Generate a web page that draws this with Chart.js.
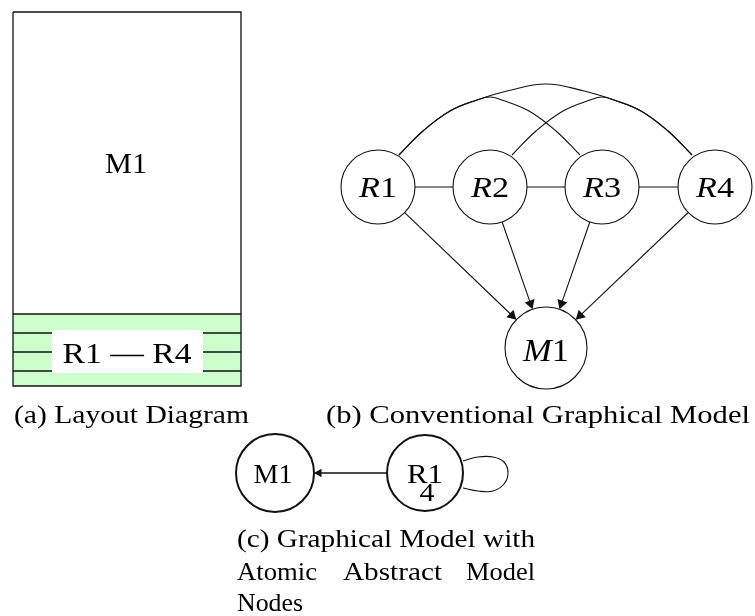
<!DOCTYPE html>
<html>
<head>
<meta charset="utf-8">
<script src="https://cdn.jsdelivr.net/npm/chart.js@4.4.1/dist/chart.umd.min.js"></script>
<style>
  html, body { margin: 0; padding: 0; background: #fff; }
  #wrap { width: 755px; height: 616px; }
</style>
</head>
<body>
<div id="wrap"><canvas id="diagram" width="755" height="616"></canvas></div>
<script>
// Diagram coordinates (y grows downward).

// (a) layout diagram
const layoutOuterX = [13, 241, 241, 13, 13];
const layoutOuterY = [12, 12, 386, 386, 12];
const stripeX = [13, 241];
const stripeTop = 314;
const stripeBottom = 386;
const stripeLinesY = [314, 333, 352, 371];
const labelBoxX = [52, 203];
const labelBoxTop = 330;
const labelBoxBottom = 373;

// (b) conventional graphical model
const nodeNamesB = ['R', 'R', 'R', 'R', 'M'];
const nodeIndexB = ['1', '2', '3', '4', '1'];
const nodeXB = [378, 490, 602, 715, 546];
const nodeYB = [187, 187, 187, 187, 348];
const nodeRadiusB = [37, 37, 37, 37, 41];
const chainEdgesB = [[0, 1], [1, 2], [2, 3]];
const arrowEdgesB = [[0, 4], [1, 4], [2, 4], [3, 4]];

// bent edges
const arcR1R4X = [399, 423, 450, 477, 507, 546, 584, 614, 641, 668, 692];
const arcR1R4Y = [155, 131, 111, 100, 91, 84, 91, 100, 111, 131, 155];
const arcR1R3X = [399, 423, 450, 477, 490, 502, 529, 556, 580];
const arcR1R3Y = [155, 131, 111, 100, 97, 100, 111, 131, 155];
const arcR2R4X = [512, 536, 563, 590, 602, 614, 641, 668, 692];
const arcR2R4Y = [155, 131, 111, 100, 97, 100, 111, 131, 155];

// (c) graphical model with atomic abstract model nodes
const nodeXC = [275, 425];
const nodeYC = [473, 473];
const nodeRadiusC = [39, 38];
const loopX = [463, 478, 493, 504, 508, 504, 493, 478, 463];
const loopY = [461, 457, 457, 462, 473, 484, 491, 491, 488];

// captions
const captionA = '(a) Layout Diagram';
const captionB = '(b) Conventional Graphical Model';
const captionC1 = '(c) Graphical Model with';
const captionC2 = ['Atomic', 'Abstract', 'Model'];
const captionC3 = 'Nodes';

const INK = '#111';
const HEAD_B = 6;
const HEAD_C = 5;

const pts = (xs, ys) => xs.map((x, i) => ({ x, y: ys[i] }));

function lineSet(data, extra) {
  return Object.assign({
    data,
    showLine: true,
    pointRadius: 0,
    borderColor: INK,
    borderWidth: 1.1,
    backgroundColor: 'rgba(0,0,0,0)',
    fill: false,
    tension: 0,
    clip: false,
    order: 7
  }, extra || {});
}

// edge between two circles, trimmed at their borders
function trimmed(xs, ys, rs, i, j) {
  const dx = xs[j] - xs[i], dy = ys[j] - ys[i];
  const len = Math.hypot(dx, dy);
  const ux = dx / len, uy = dy / len;
  return {
    x0: xs[i] + ux * rs[i], y0: ys[i] + uy * rs[i],
    x1: xs[j] - ux * rs[j], y1: ys[j] - uy * rs[j],
    ux, uy
  };
}

const datasets = [];

// ---- (a) ----
datasets.push(lineSet(pts(stripeX, [stripeTop, stripeTop]), {
  borderColor: 'rgba(0,0,0,0)', backgroundColor: '#ccffcc',
  fill: { value: stripeBottom }, order: 12
}));
stripeLinesY.forEach(y => datasets.push(lineSet(pts(stripeX, [y, y]), { borderWidth: 1.3, order: 11 })));
datasets.push(lineSet(pts(layoutOuterX, layoutOuterY), { borderWidth: 1.3, order: 11 }));
datasets.push(lineSet(pts(labelBoxX, [labelBoxTop, labelBoxTop]), {
  borderColor: 'rgba(0,0,0,0)', backgroundColor: '#fff',
  fill: { value: labelBoxBottom }, order: 10
}));

// ---- (b) ----
chainEdgesB.forEach(([i, j]) => {
  const e = trimmed(nodeXB, nodeYB, nodeRadiusB, i, j);
  datasets.push(lineSet([{ x: e.x0, y: e.y0 }, { x: e.x1, y: e.y1 }]));
});
[[arcR1R4X, arcR1R4Y], [arcR1R3X, arcR1R3Y], [arcR2R4X, arcR2R4Y]].forEach(([xs, ys]) => {
  datasets.push(lineSet(pts(xs, ys), { tension: 0.4 }));
});

const headsB = [];
const headRotB = [];
arrowEdgesB.forEach(([i, j]) => {
  const e = trimmed(nodeXB, nodeYB, nodeRadiusB, i, j);
  const hx = e.x1 - e.ux * HEAD_B, hy = e.y1 - e.uy * HEAD_B;
  datasets.push(lineSet([{ x: e.x0, y: e.y0 }, { x: hx, y: hy }]));
  headsB.push({ x: hx, y: hy });
  headRotB.push(Math.atan2(e.ux, -e.uy) * 180 / Math.PI);
});

datasets.push({
  data: pts(nodeXB, nodeYB),
  showLine: false,
  pointRadius: nodeRadiusB,
  pointBackgroundColor: '#fff',
  pointBorderColor: INK,
  pointBorderWidth: 1.1,
  clip: false,
  order: 5
});
datasets.push({
  data: headsB,
  showLine: false,
  pointStyle: 'triangle',
  pointRadius: HEAD_B,
  pointRotation: headRotB,
  pointBackgroundColor: INK,
  pointBorderWidth: 0,
  clip: false,
  order: 4
});

// ---- (c) ----
const eC = trimmed(nodeXC, nodeYC, nodeRadiusC, 1, 0);
const headC = { x: eC.x1 - eC.ux * HEAD_C, y: eC.y1 - eC.uy * HEAD_C };
datasets.push(lineSet([{ x: eC.x0, y: eC.y0 }, headC], { borderWidth: 1.3 }));
datasets.push(lineSet(pts(loopX, loopY), { tension: 0.4 }));
datasets.push({
  data: pts(nodeXC, nodeYC),
  showLine: false,
  pointRadius: nodeRadiusC,
  pointBackgroundColor: '#fff',
  pointBorderColor: INK,
  pointBorderWidth: 2,
  clip: false,
  order: 5
});
datasets.push({
  data: [headC],
  showLine: false,
  pointStyle: 'triangle',
  pointRadius: HEAD_C,
  pointRotation: Math.atan2(eC.ux, -eC.uy) * 180 / Math.PI,
  pointBackgroundColor: INK,
  pointBorderWidth: 0,
  clip: false,
  order: 4
});

// ---- text ----
const SERIF = '"Liberation Serif", "DejaVu Serif", serif';
const up = t => ({ t });
const it = t => ({ t, italic: true });

const labels = [
  { parts: [up('M1')], x: 126, y: 173, size: 30, width: 42 },
  { parts: [up('R1 \u2014 R4')], x: 127, y: 363, size: 29, width: 129 },
  { parts: [up(captionA)], x: 14, y: 423, size: 26, width: 235, align: 'left' },
  { parts: [up(captionB)], x: 326, y: 423, size: 26, width: 424, align: 'left' },
  { parts: [up(captionC1)], x: 237, y: 547, size: 26, width: 298, align: 'left' },
  { parts: [up(captionC2[0])], x: 237, y: 580, size: 26, width: 80, align: 'left' },
  { parts: [up(captionC2[1])], x: 343, y: 580, size: 26, width: 99, align: 'left' },
  { parts: [up(captionC2[2])], x: 466, y: 580, size: 26, width: 69, align: 'left' },
  { parts: [up(captionC3)], x: 237, y: 611, size: 26, width: 66, align: 'left' },
  { parts: [up('M1')], x: nodeXC[0] - 2, y: 483, size: 28, width: 39 },
  { parts: [up('R1')], x: nodeXC[1], y: 483, size: 28, width: 36 },
  { parts: [up('4')], x: nodeXC[1] + 2, y: 501, size: 25, width: 15 }
];
nodeXB.forEach((x, i) => {
  const isM = nodeNamesB[i] === 'M';
  labels.push({
    parts: [it(nodeNamesB[i]), up(nodeIndexB[i])],
    x, y: isM ? 361 : 197, size: isM ? 32 : 30, width: isM ? 46 : 38
  });
});

function fontFor(p, size) {
  return (p.italic ? 'italic ' : '') + size + 'px ' + SERIF;
}

function drawLabel(ctx, label, px, py) {
  ctx.save();
  ctx.fillStyle = '#000';
  ctx.textBaseline = 'alphabetic';
  ctx.textAlign = 'left';
  let natural = 0;
  const widths = label.parts.map(p => {
    ctx.font = fontFor(p, label.size);
    const w = ctx.measureText(p.t).width;
    natural += w;
    return w;
  });
  const target = label.width || natural;
  const left = label.align === 'left' ? px : px - target / 2;
  ctx.translate(left, py);
  ctx.scale(target / natural, 1);
  let cx = 0;
  label.parts.forEach((p, i) => {
    ctx.font = fontFor(p, label.size);
    ctx.fillText(p.t, cx, 0);
    cx += widths[i];
  });
  ctx.restore();
}

const textPlugin = {
  id: 'diagramText',
  afterDatasetsDraw(chart) {
    const { ctx, scales } = chart;
    labels.forEach(l => drawLabel(ctx, l, scales.x.getPixelForValue(l.x), scales.y.getPixelForValue(l.y)));
  }
};

new Chart(document.getElementById('diagram'), {
  type: 'scatter',
  data: { datasets },
  options: {
    responsive: false,
    animation: false,
    devicePixelRatio: 1,
    events: [],
    layout: { padding: 0, autoPadding: false },
    scales: {
      x: { type: 'linear', min: 0, max: 755, display: false },
      y: { type: 'linear', min: 0, max: 616, reverse: true, display: false }
    },
    plugins: {
      legend: { display: false },
      tooltip: { enabled: false }
    }
  },
  plugins: [textPlugin]
});
</script>
</body>
</html>
